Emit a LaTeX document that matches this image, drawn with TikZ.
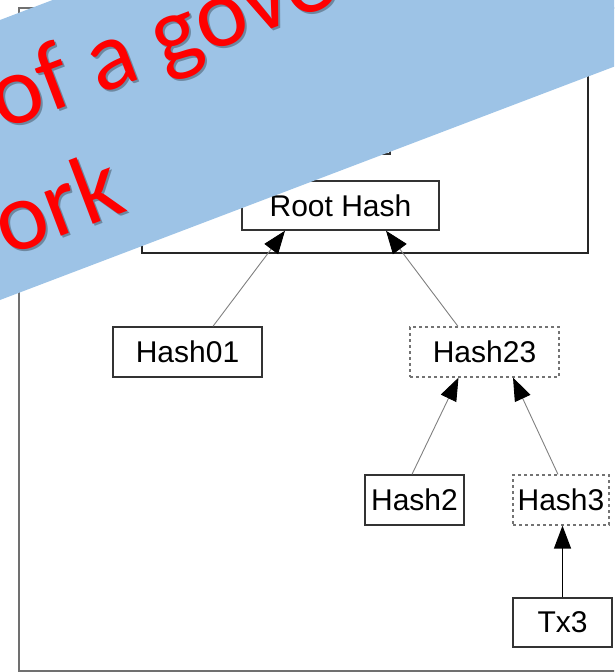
\documentclass[tikz,border=0pt]{standalone}
\usepackage{fontspec}
\setmainfont{Liberation Sans}
\newfontfamily\bannerfont{Carlito}
\usetikzlibrary{arrows.meta}
\definecolor{bannerblue}{HTML}{9DC3E6}
\definecolor{framegray}{HTML}{707070}
\begin{document}
\begin{tikzpicture}[x=1pt,y=-1pt,
  hbox/.style={draw=black!80, line width=1.4pt, fill=white, inner sep=0pt,
    font=\fontsize{30}{36}\selectfont, minimum height=50pt},
  dbox/.style={hbox, draw=black!55, line width=1.2pt, dash pattern=on 3pt off 3pt},
  link/.style={draw=black!50, line width=0.9pt,
    -{Triangle[length=23pt,width=17pt,color=black]}},
  banner/.style={anchor=base west, rotate=20.8, inner sep=0pt,
    font=\bannerfont\fontsize{98}{118}\selectfont},
]
\useasboundingbox (0,0) rectangle (614,672);
\clip (0,0) rectangle (614,672);
% outer frame
\draw[framegray, line width=2.2pt] (640,8) -- (19,8) -- (19,671) -- (640,671);
% block header box
\draw[black!85, line width=2pt] (142,40) rectangle (588,253);
% box mostly hidden under the banner
\draw[black!80, line width=1.4pt] (250,104) rectangle (390,154);
% nodes
\node[hbox, minimum width=197pt, minimum height=49pt] (root) at (340.5,205.5) {Root Hash};
\node[hbox, minimum width=149pt] (h01) at (187.5,352) {Hash01};
\node[dbox, minimum width=149pt] (h23) at (484.5,352) {Hash23};
\node[hbox, minimum width=99pt] (h2) at (414.5,500) {Hash2};
\node[dbox, minimum width=96pt] (h3) at (561,500) {Hash3};
\node[hbox, minimum width=99pt, minimum height=49pt] (tx3) at (562.5,622.5) {Tx3};
% connectors
\draw[link] ([xshift=25.5pt]h01.north) -- ([xshift=-55.5pt]root.south);
\draw[link] ([xshift=-26.5pt]h23.north) -- ([xshift=45.5pt]root.south);
\draw[link] ([xshift=-2.5pt]h2.north) -- ([xshift=-26pt]h23.south);
\draw[link] ([xshift=-3pt]h3.north) -- ([xshift=28.5pt]h23.south);
\draw[link, draw=black, line width=1.3pt] (tx3.north) -- (tx3.north |- h3.south);
% banner
\fill[bannerblue] (0,20) -- (52.6,0) -- (620,0) -- (620,64.4) -- (0,300) -- cycle;
\node[banner, text=black, opacity=0.3] at (4,133) {of a gove};
\node[banner, text=red] (l1) at (2,131) {of a gove};
\node[banner, text=black, opacity=0.3] at (9,259) {ork};
\node[banner, text=red] (l2) at (7,257) {ork};
\end{tikzpicture}
\end{document}
